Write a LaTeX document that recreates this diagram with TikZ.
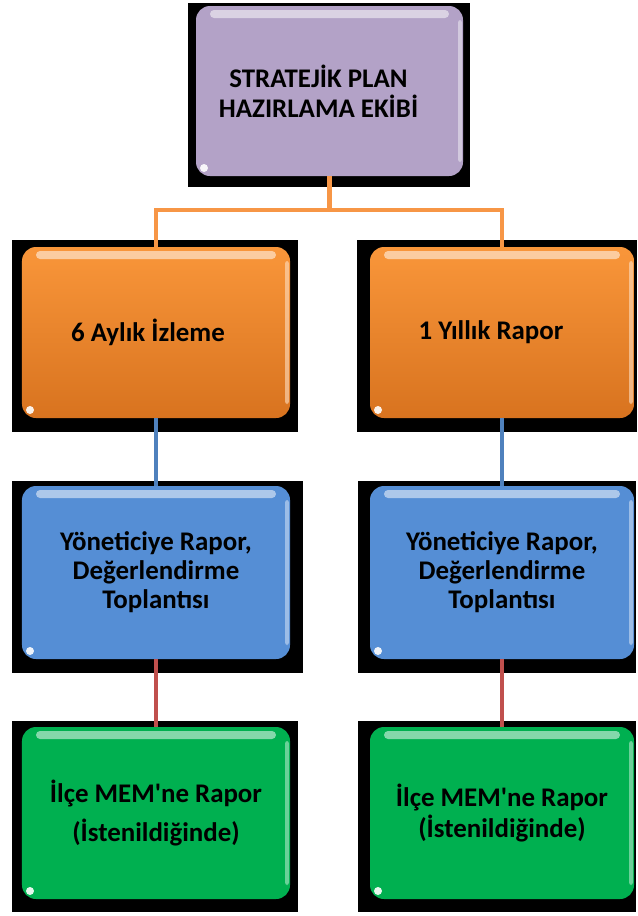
\documentclass[tikz,border=0pt]{standalone}
\usepackage{fontspec}
\newfontfamily\carl{Carlito}
\usetikzlibrary{calc}
\definecolor{purp}{HTML}{B3A2C7}
\definecolor{orgtop}{HTML}{F9963A}
\definecolor{orgbot}{HTML}{D8731F}
\definecolor{blu}{HTML}{558ED5}
\definecolor{grn}{HTML}{00B050}
\definecolor{lorange}{HTML}{F79646}
\definecolor{lblue}{HTML}{4F81BD}
\definecolor{lred}{HTML}{C0504D}
\tikzset{
  bgbox/.style={fill=black, draw=none, inner sep=0pt, outer sep=0pt},
  cbox/.style={rounded corners=14bp, inner sep=0pt, outer sep=0pt, align=center,
     font=\carl\bfseries\fontsize{27}{29}\selectfont, text=black,
     minimum width=266bp, minimum height=171bp, draw=none},
  conn/.style={line width=4.5bp},
}
\newcommand\gloss[2]{%
  \fill[#2!35!white, opacity=.8, rounded corners=4bp]
    ([xshift=14bp,yshift=-4bp]#1.north west) rectangle ([xshift=-14bp,yshift=-12bp]#1.north east);
  \fill[#2!30!white, opacity=.6, rounded corners=2.5bp]
    ([xshift=-5bp,yshift=-14bp]#1.north east) rectangle ([xshift=-1bp,yshift=14bp]#1.south east);
  \fill[white, opacity=.9] ([xshift=8bp,yshift=8bp]#1.south west) circle (4bp);
}
\begin{document}
\begin{tikzpicture}[x=1bp,y=-1bp]
\useasboundingbox (0,0) rectangle (638,916);
\fill[white] (0,0) rectangle (638,916);
% black backgrounds
\node[bgbox, minimum width=282bp, minimum height=184bp] (bgT) at (329,95) {};
\node[bgbox, minimum width=286bp, minimum height=192bp] (bgL1) at (155,336) {};
\node[bgbox, minimum width=280bp, minimum height=192bp] (bgR1) at (497,336) {};
\node[bgbox, minimum width=291bp, minimum height=192bp] (bgL2) at (157.5,577) {};
\node[bgbox, minimum width=278bp, minimum height=192bp] (bgR2) at (497,577) {};
\node[bgbox, minimum width=286bp, minimum height=191bp] (bgL3) at (155,816.5) {};
\node[bgbox, minimum width=278bp, minimum height=191bp] (bgR3) at (497,816.5) {};
% coloured boxes
\node[cbox, fill=purp, minimum width=267bp, minimum height=170bp,
      font=\carl\bfseries\fontsize{27}{30}\selectfont] (top) at (329.5,91)
  {\hspace*{-22bp}STRATEJİK PLAN\\\hspace*{-22bp}HAZIRLAMA EKİBİ};
\node[cbox, top color=orgtop, bottom color=orgbot, minimum width=268bp] (o1) at (156,332.5)
  {\hspace*{-16bp}6 Aylık İzleme};
\node[cbox, top color=orgtop, bottom color=orgbot, minimum width=264bp] (o2) at (502,332.5)
  {\hspace*{-22bp}1 Yıllık Rapor};
\node[cbox, fill=blu, minimum width=268bp, minimum height=173bp] (b1) at (156,572.5)
  {Yöneticiye Rapor,\\Değerlendirme\\Toplantısı};
\node[cbox, fill=blu, minimum width=264bp, minimum height=173bp] (b2) at (502,572.5)
  {Yöneticiye Rapor,\\Değerlendirme\\Toplantısı};
\node[cbox, fill=grn, minimum width=268bp, minimum height=172bp,
      font=\carl\bfseries\fontsize{27}{39}\selectfont] (g1) at (156,813)
  {İlçe MEM'ne Rapor\\(İstenildiğinde)};
\node[cbox, fill=grn, minimum width=264bp, minimum height=172bp,
      font=\carl\bfseries\fontsize{27}{32}\selectfont] (g2) at (502,813)
  {İlçe MEM'ne Rapor\\(İstenildiğinde)};
% gloss
\gloss{top}{purp}
\gloss{o1}{orgtop}
\gloss{o2}{orgtop}
\gloss{b1}{blu}
\gloss{b2}{blu}
\gloss{g1}{grn}
\gloss{g2}{grn}
% connectors
\coordinate (split) at ($(top.south)+(0,34)$);
\draw[conn, lorange] (top.south) -- (split);
\draw[conn, lorange] (split) -| (o1.north);
\draw[conn, lorange] (split) -| (o2.north);
\draw[conn, lblue] (o1.south) -- (b1.north);
\draw[conn, lblue] (o2.south) -- (b2.north);
\draw[conn, lred] (b1.south) -- (g1.north);
\draw[conn, lred] (b2.south) -- (g2.north);
\end{tikzpicture}
\end{document}
